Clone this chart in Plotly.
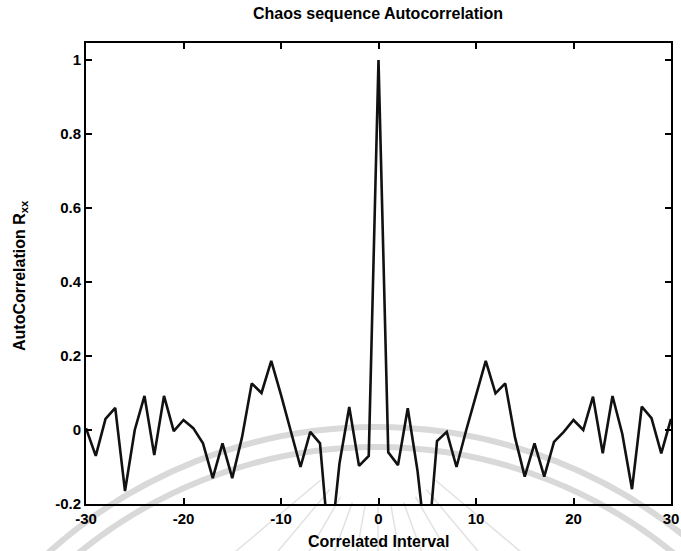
import math
import plotly.graph_objects as go

# Correlation lags and normalised autocorrelation values R_xx
lags = [-30, -29, -28, -27, -26, -25, -24, -23, -22, -21,
        -20, -19, -18, -17, -16, -15, -14, -13, -12, -11,
        -10, -9, -8, -7, -6, -5, -4, -3, -2, -1,
        0,
        1, 2, 3, 4, 5, 6, 7, 8, 9, 10,
        11, 12, 13, 14, 15, 16, 17, 18, 19, 20,
        21, 22, 23, 24, 25, 26, 27, 28, 29, 30]
rxx = [0.005, -0.07, 0.03, 0.06, -0.165, 0.0, 0.092, -0.068, 0.092, -0.003,
       0.027, 0.005, -0.036, -0.13, -0.036, -0.13, -0.02, 0.126, 0.1, 0.187,
       0.095, 0.0, -0.1, -0.005, -0.036, -0.34, -0.09, 0.062, -0.097, -0.07,
       1.0,
       -0.06, -0.095, 0.059, -0.11, -0.345, -0.03, -0.005, -0.1, 0.0, 0.095,
       0.187, 0.099, 0.126, -0.02, -0.126, -0.036, -0.126, -0.032, -0.005, 0.027,
       0.0, 0.09, -0.063, 0.092, -0.01, -0.16, 0.063, 0.032, -0.063, 0.03]

x_ticks = [-30, -20, -10, 0, 10, 20, 30]
x_tick_text = ["-30", "-20", "-10", "0", "10", "20", "30"]
y_ticks = [-0.2, 0, 0.2, 0.4, 0.6, 0.8, 1.0]
y_tick_text = ["-0.2", "0", "0.2", "0.4", "0.6", "0.8", "1"]

FONT = "Liberation Sans, Arial, sans-serif"
W, H = 681, 551
ML, MR, MT, MB = 86, 10, 43, 47

fig = go.Figure()
fig.add_trace(go.Scatter(
    x=lags, y=rxx, mode="lines",
    line=dict(color="#111111", width=2.6),
    showlegend=False, hoverinfo="x+y",
))

axis_common = dict(
    showgrid=False, zeroline=False, automargin=False,
    showline=True, linecolor="black", linewidth=2,
    mirror="ticks", ticks="inside", ticklen=6, tickwidth=1.5, tickcolor="black",
    tickfont=dict(family=FONT, size=15, color="black", weight="bold"),
)

fig.update_xaxes(range=[-30, 30], tickmode="array", tickvals=x_ticks,
                 ticktext=x_tick_text, **axis_common)
fig.update_yaxes(range=[-0.2, 1.046], tickmode="array", tickvals=y_ticks,
                 ticktext=y_tick_text, **axis_common)

# helper: pixel position on the page -> paper coordinates
pw, ph = W - ML - MR, H - MT - MB


def px(X):
    return (X - ML) / pw


def py(Y):
    return (H - MB - Y) / ph


# faint seal in the background: a double ring and a fan of thin rays
for cy, r in [(917, 490), (917, 470)]:
    cx = 376
    fig.add_shape(type="circle", xref="paper", yref="paper",
                  x0=px(cx - r), x1=px(cx + r), y0=py(cy + r), y1=py(cy - r),
                  line=dict(color="#d9d9d9", width=6), layer="below")

fan_cx, fan_cy = 378, 432
for deg in range(40, 141, 10):
    a = math.radians(deg)
    x0, y0 = fan_cx + 75 * math.cos(a), fan_cy + 75 * math.sin(a)
    x1, y1 = fan_cx + 190 * math.cos(a), fan_cy + 190 * math.sin(a)
    fig.add_shape(type="line", xref="paper", yref="paper",
                  x0=px(x0), y0=py(y0), x1=px(x1), y1=py(y1),
                  line=dict(color="#e2e2e2", width=1.5), layer="below")

label_font = dict(family=FONT, size=16, color="black", weight="bold")

fig.update_layout(
    width=W, height=H,
    margin=dict(l=ML, r=MR, t=MT, b=MB, autoexpand=False),
    paper_bgcolor="white", plot_bgcolor="rgba(0,0,0,0)",
    title=dict(text="Chaos sequence Autocorrelation", xref="paper", x=px(378),
               xanchor="center", yref="container", y=1 - 13 / H, yanchor="middle",
               font=label_font),
    annotations=[
        dict(text="Correlated Interval", xref="paper", yref="paper",
             x=px(378), y=py(541), xanchor="center", yanchor="middle",
             showarrow=False, font=label_font),
        dict(text="AutoCorrelation R<sub>xx</sub>", xref="paper", yref="paper",
             x=px(20), y=py(276), xanchor="center", yanchor="middle", textangle=-90,
             showarrow=False, font=label_font),
    ],
)

fig.write_html("out.html")
